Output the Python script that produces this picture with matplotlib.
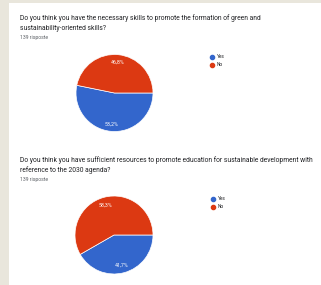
import matplotlib
matplotlib.use("Agg")
import matplotlib.pyplot as plt
from matplotlib.patches import Rectangle

categories = ["Yes", "No"]
q1_values = [53.2, 46.8]
q2_values = [41.7, 58.3]
q1_title = ["Do you think you have the necessary skills to promote the formation of green and",
            "sustainability-oriented skills?"]
q2_title = ["Do you think you have sufficient resources to promote education for sustainable development with",
            "reference to the 2030 agenda?"]
responses = "139 risposte"
colors = ["#3366CC", "#DC3912"]

W, H = 321, 285
fig = plt.figure(figsize=(W / 100, H / 100), dpi=100)
fig.patch.set_facecolor("#e9e6dc")
plt.rcParams['font.family'] = ['Roboto', 'DejaVu Sans']

# white card
fig.patches.append(Rectangle((9 / W, 0), 1 - 9 / W, 1 - 3 / H, transform=fig.transFigure,
                             facecolor="white", edgecolor="none", zorder=-5))


def px(x, y):
    return x / W, 1 - y / H


def draw_block(y0, title, values, cx, cy, r, legend_xy):
    fig.text(*px(20, y0), title[0], fontsize=4.9, color="#202124", va="center", ha="left")
    fig.text(*px(20, y0 + 10), title[1], fontsize=4.9, color="#202124", va="center", ha="left")
    fig.text(*px(20, y0 + 19), responses, fontsize=3.7, color="#5f6368", va="center", ha="left")

    ax = fig.add_axes([(cx - r) / W, 1 - (cy + r) / H, 2 * r / W, 2 * r / H])
    ax.pie(values, colors=colors, startangle=0, counterclock=False,
           autopct=lambda p: f"{p:.1f}%".replace(".", ","), pctdistance=0.8,
           wedgeprops=dict(edgecolor="white", linewidth=0.5),
           textprops=dict(color="white", fontsize=3.8))
    ax.set_xlim(-1, 1)
    ax.set_ylim(-1, 1)
    ax.set_aspect("equal")
    ax.axis("off")

    lx, ly = legend_xy
    for i, (cat, col) in enumerate(zip(categories, colors)):
        yy = ly + i * 8
        fig.lines.append(plt.Line2D([lx / W], [1 - yy / H], marker="o", markersize=3.0,
                                    color=col, linestyle="none", transform=fig.transFigure))
        fig.text(*px(lx + 5, yy), cat, fontsize=3.4, color="#202124", va="center", ha="left")


draw_block(18, q1_title, q1_values, 114.5, 93, 38.5, (212, 57))
draw_block(160, q2_title, q2_values, 114, 235, 39, (213, 199))

fig.savefig("out.png", dpi=100, facecolor=fig.get_facecolor())
